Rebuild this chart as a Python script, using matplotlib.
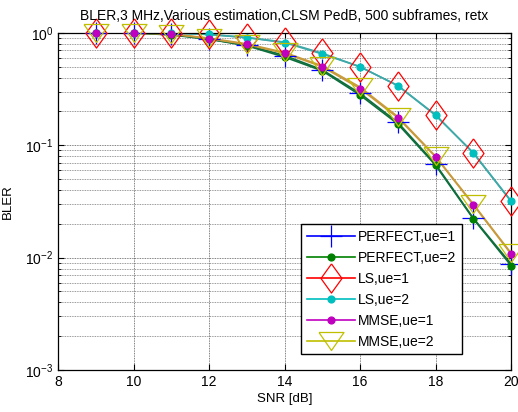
import numpy as np
import matplotlib; matplotlib.use("Agg")
import matplotlib.pyplot as plt
from matplotlib.lines import Line2D
from matplotlib.ticker import LogLocator, NullFormatter

plt.rcParams["font.family"] = ["Liberation Sans", "DejaVu Sans"]
plt.rcParams["mathtext.default"] = "regular"

snr = [8, 9, 10, 11, 12, 13, 14, 15, 16, 17, 18, 19, 20]
perfect_ue1 = [1, 1, 1, 0.97, 0.88, 0.78, 0.63, 0.47, 0.29, 0.160, 0.068, 0.0225, 0.0088]
perfect_ue2 = [1, 1, 1, 0.96, 0.88, 0.77, 0.61, 0.46, 0.28, 0.155, 0.0665, 0.0222, 0.0085]
ls_ue1 = [1, 1, 1, 1.0, 0.97, 0.91, 0.83, 0.66, 0.50, 0.340, 0.185, 0.0860, 0.0320]
ls_ue2 = [1, 1, 1, 1.0, 0.97, 0.91, 0.82, 0.65, 0.50, 0.340, 0.187, 0.0855, 0.0317]
mmse_ue1 = [1, 1, 1, 0.98, 0.89, 0.79, 0.66, 0.50, 0.32, 0.176, 0.079, 0.0296, 0.0108]
mmse_ue2 = [1, 1, 1, 0.98, 0.90, 0.80, 0.67, 0.51, 0.33, 0.180, 0.080, 0.0300, 0.0110]
labels = ["PERFECT,ue=1", "PERFECT,ue=2", "LS,ue=1", "LS,ue=2", "MMSE,ue=1", "MMSE,ue=2"]

diamond = [(0, 1), (0.72, 0), (0, -1), (-0.72, 0), (0, 1)]
tri = [(-1, 0.72), (1, 0.72), (0, -0.72), (-1, 0.72)]

# (marker colour, curve colour as it shows in the plot, marker, size, filled)
styles = [
    ("#0000ff", "#0e6e3c", "+", 16, False),
    ("#008000", "#0e6e3c", "o", 5, True),
    ("#ff0000", "#3fa8a8", diamond, 21, False),
    ("#00bfbf", "#3fa8a8", "o", 5, True),
    ("#bf00bf", "#c89a3c", "o", 5, True),
    ("#bfbf00", "#c89a3c", tri, 18, False),
]
series = [perfect_ue1, perfect_ue2, ls_ue1, ls_ue2, mmse_ue1, mmse_ue2]

fig = plt.figure(figsize=(5.18, 4.12), dpi=100)
ax = fig.add_axes([0.112, 0.102, 0.8745, 0.818])

handles = []
for y, lab, (mc, lc, mk, ms, filled) in zip(series, labels, styles):
    ax.plot(snr, y, color=lc, lw=1.2, zorder=2)
    ax.plot(snr[1:], y[1:], ls="none", marker=mk, ms=ms, mec=mc,
            mfc=mc if filled else "none", mew=0.9, zorder=3, clip_on=False)
    handles.append(Line2D([0], [0], color=mc, lw=1.2, marker=mk, ms=ms, mec=mc,
                          mfc=mc if filled else "none", mew=0.9, label=lab))

ax.set_yscale("log")
ax.set_xlim(8, 20)
ax.set_ylim(1e-3, 1)
ax.set_xticks([8, 10, 12, 14, 16, 18, 20])
ax.yaxis.set_major_locator(LogLocator(base=10, numticks=10))
ax.yaxis.set_minor_locator(LogLocator(base=10, subs=np.arange(2, 10), numticks=10))
ax.yaxis.set_minor_formatter(NullFormatter())
ax.grid(True, which="major", color="#555555", ls=(0, (1, 1)), lw=0.6)
ax.grid(True, which="minor", axis="y", color="#777777", ls=(0, (1, 1)), lw=0.6)
ax.tick_params(which="both", direction="in", top=True, right=True, labelsize=10)
ax.tick_params(which="major", length=4)
ax.tick_params(which="minor", length=2.5)
for sp in ax.spines.values():
    sp.set_linewidth(0.9)

ax.set_title("BLER,3 MHz,Various estimation,CLSM PedB, 500 subframes, retx", fontsize=10, pad=9)
ax.set_xlabel("SNR [dB]", fontsize=9.5, labelpad=3)
ax.set_ylabel("BLER", fontsize=9.5, labelpad=8)

leg = ax.legend(handles=handles, loc="lower right", bbox_to_anchor=(0.892, 0.047),
                fontsize=10, fancybox=False, edgecolor="black", framealpha=1,
                handlelength=3.5, labelspacing=0.5, borderpad=0.4, handletextpad=0.2,
                borderaxespad=0)
leg.get_frame().set_linewidth(1.0)
leg.set_zorder(5)

fig.savefig("out.png", dpi=100)
